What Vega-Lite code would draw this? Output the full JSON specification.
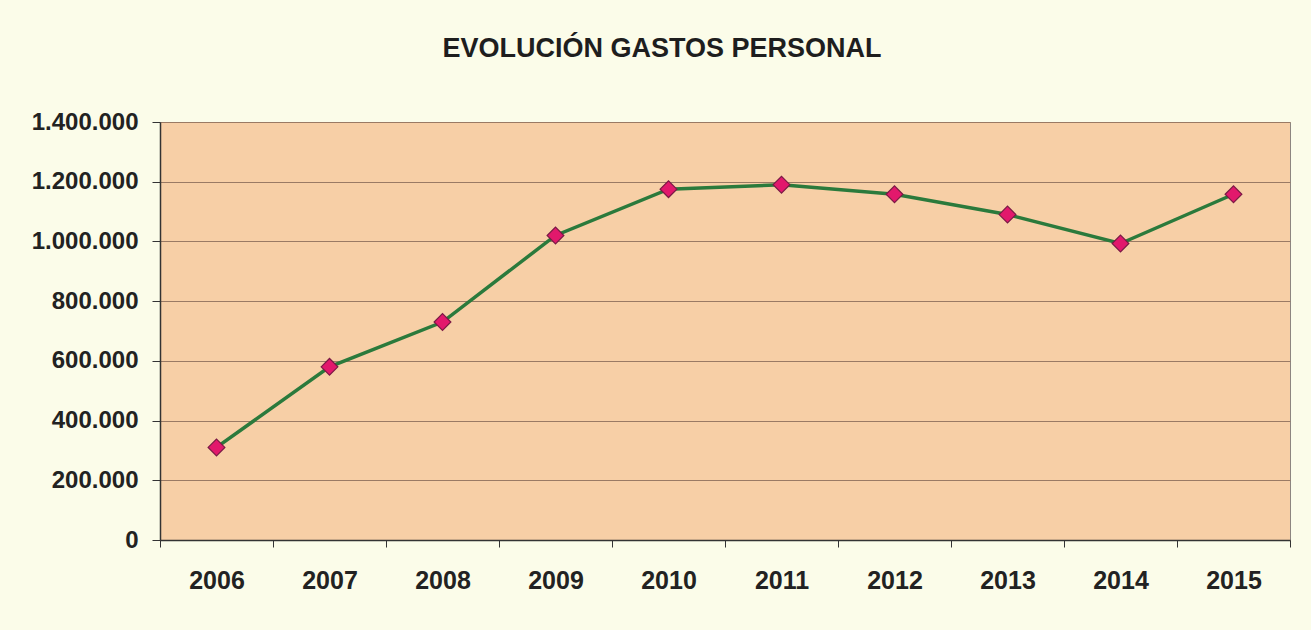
{
  "$schema": "https://vega.github.io/schema/vega-lite/v6.json",
  "width": 1130,
  "height": 418,
  "autosize": {"type": "none"},
  "padding": {"left": 160, "top": 122, "right": 21, "bottom": 90},
  "background": "#fbfce9",
  "title": {
    "text": "EVOLUCIÓN GASTOS PERSONAL",
    "font": "Liberation Sans",
    "fontSize": 27,
    "fontWeight": "bold",
    "color": "#1e1e1e",
    "anchor": "middle",
    "offset": 47,
    "dx": -63
  },
  "config": {
    "locale": {"number": {"decimal": ",", "thousands": ".", "grouping": [3], "currency": ["", " €"]}},
    "view": {"fill": "#f7cfa6", "stroke": "#8c8580", "strokeWidth": 1}
  },
  "data": {
    "values": [
      {"year": "2006", "gasto": 310000},
      {"year": "2007", "gasto": 580000},
      {"year": "2008", "gasto": 730000},
      {"year": "2009", "gasto": 1020000},
      {"year": "2010", "gasto": 1175000},
      {"year": "2011", "gasto": 1190000},
      {"year": "2012", "gasto": 1158000},
      {"year": "2013", "gasto": 1090000},
      {"year": "2014", "gasto": 993000},
      {"year": "2015", "gasto": 1158000}
    ]
  },
  "encoding": {
    "x": {
      "field": "year",
      "type": "ordinal",
      "scale": {"type": "band", "paddingInner": 0, "paddingOuter": 0},
      "axis": {
        "title": null,
        "labelAngle": 0,
        "labelFont": "Liberation Sans",
        "labelFontSize": 25,
        "labelFontWeight": "bold",
        "labelColor": "#222222",
        "labelPadding": 21,
        "tickBand": "extent",
        "tickSize": 7,
        "tickColor": "#333333",
        "domainColor": "#333333",
        "domainWidth": 1.5,
        "grid": false
      }
    },
    "y": {
      "field": "gasto",
      "type": "quantitative",
      "scale": {"domain": [0, 1400000], "nice": false},
      "axis": {
        "title": null,
        "values": [0, 200000, 400000, 600000, 800000, 1000000, 1200000, 1400000],
        "format": ",d",
        "labelFont": "Liberation Sans",
        "labelFontSize": 24,
        "labelFontWeight": "bold",
        "labelColor": "#222222",
        "labelPadding": 14,
        "tickSize": 8,
        "tickColor": "#333333",
        "domainColor": "#333333",
        "domainWidth": 1.5,
        "grid": true,
        "gridColor": "#9a7a64",
        "gridWidth": 1.2
      }
    }
  },
  "layer": [
    {"mark": {"type": "line", "color": "#2b7a3c", "strokeWidth": 3.5}},
    {"mark": {"type": "point", "shape": "diamond", "size": 280, "filled": true, "fill": "#e2186c", "stroke": "#7a1a45", "strokeWidth": 1.2, "opacity": 1}}
  ]
}
